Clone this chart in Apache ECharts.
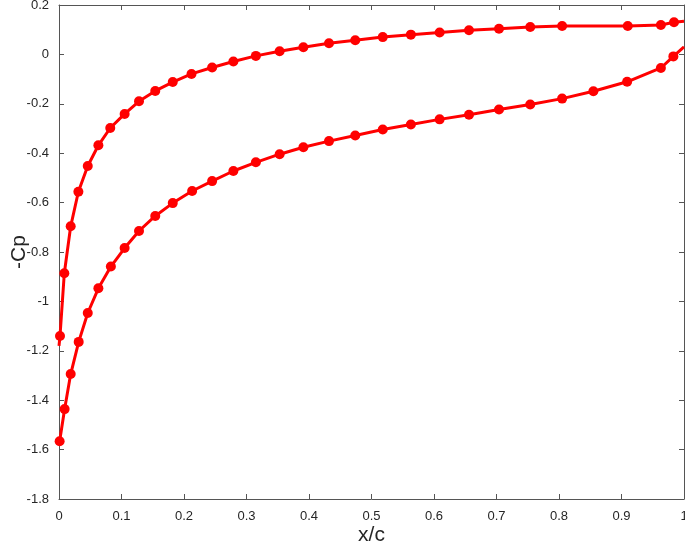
<!DOCTYPE html>
<html>
<head>
<meta charset="utf-8">
<script src="https://cdn.jsdelivr.net/npm/echarts@6/dist/echarts.min.js"></script>
<style>
  html, body { margin: 0; padding: 0; background: #fff; }
  #cp { width: 685px; height: 547px; }
</style>
</head>
<body>
<div id="cp"></div>
<script>
// upper curve (x/c, -Cp)
const xUpper = [0, 0.0016, 0.0085, 0.0187, 0.031, 0.046, 0.063, 0.082, 0.105, 0.128, 0.154, 0.182, 0.212,
  0.245, 0.279, 0.315, 0.353, 0.391, 0.432, 0.474, 0.518, 0.563, 0.609, 0.656, 0.704, 0.754, 0.805,
  0.910, 0.963, 0.984, 1.0]
const cpUpper = [-1.18, -1.14, -0.886, -0.696, -0.556, -0.452, -0.368, -0.298, -0.241, -0.190, -0.148, -0.112, -0.079,
  -0.053, -0.029, -0.006, 0.013, 0.029, 0.045, 0.057, 0.070, 0.080, 0.089, 0.098, 0.104, 0.111, 0.115,
  0.115, 0.119, 0.130, 0.134]
// lower curve
const xLower = [0.001, 0.009, 0.0187, 0.0315, 0.046, 0.063, 0.083, 0.105, 0.128, 0.154, 0.182, 0.213,
  0.245, 0.279, 0.315, 0.353, 0.391, 0.432, 0.474, 0.518, 0.563, 0.609, 0.656, 0.704, 0.754, 0.805,
  0.855, 0.909, 0.963, 0.983, 1.0]
const cpLower = [-1.566, -1.436, -1.294, -1.164, -1.047, -0.947, -0.859, -0.784, -0.715, -0.654, -0.602, -0.553,
  -0.513, -0.472, -0.437, -0.404, -0.376, -0.351, -0.328, -0.304, -0.284, -0.263, -0.244, -0.223, -0.203, -0.179,
  -0.149, -0.111, -0.055, -0.008, 0.030]
// axis ticks
const xTicks = [0, 1, 0.1]
const yTicks = [-1.8, 0.2, 0.2]

// end points sit on the axes without a marker
function pairs (xs, ys) {
  return xs.map((x, i) => {
    let item = { value: [x, ys[i]] }
    if (x === 0 || x === 1) item.symbol = 'none'
    return item
  })
}

const axisCol = '#262626'
const tickFont = { color: axisCol, fontSize: 13, fontFamily: 'Liberation Sans, Arial, sans-serif' }

function xAx (pos, show) {
  return {
    type: 'value', position: pos, min: xTicks[0], max: xTicks[1], interval: xTicks[2],
    name: show ? 'x/c' : '', nameLocation: 'middle', nameGap: 26, nameMoveOverlap: false,
    nameTextStyle: { color: axisCol, fontSize: 21, fontFamily: 'Liberation Sans, Arial, sans-serif' },
    axisLine: { show: true, onZero: false, lineStyle: { color: '#555', width: 1 } },
    axisTick: { show: true, inside: true, length: 5, lineStyle: { color: '#555' } },
    axisLabel: Object.assign({ show: show, margin: 11 }, tickFont),
    splitLine: { show: false }
  }
}
function yAx (pos, show) {
  return {
    type: 'value', position: pos, min: yTicks[0], max: yTicks[1], interval: yTicks[2],
    name: show ? '-Cp' : '', nameLocation: 'middle', nameGap: 29, nameMoveOverlap: false,
    nameTextStyle: { color: axisCol, fontSize: 21, fontFamily: 'Liberation Sans, Arial, sans-serif' },
    axisLine: { show: true, onZero: false, lineStyle: { color: '#555', width: 1 } },
    axisTick: { show: true, inside: true, length: 5, lineStyle: { color: '#555' } },
    axisLabel: Object.assign({ show: show, margin: 10 }, tickFont),
    splitLine: { show: false }
  }
}

const lineStyle = { color: '#ff0000', width: 3 }
const option = {
  animation: false,
  grid: { left: 59, top: 5, width: 625, height: 494, containLabel: false, outerBoundsMode: 'none' },
  xAxis: [xAx('bottom', true), xAx('top', false)],
  yAxis: [yAx('left', true), yAx('right', false)],
  series: [
    {
      type: 'line', data: pairs(xUpper, cpUpper), symbol: 'circle', symbolSize: 10,
      itemStyle: { color: '#ff0000' }, lineStyle: lineStyle, clip: true
    },
    {
      type: 'line', data: pairs(xLower, cpLower), symbol: 'circle', symbolSize: 10,
      itemStyle: { color: '#ff0000' }, lineStyle: lineStyle, clip: true
    }
  ]
}

let myChart = echarts.init(document.getElementById('cp'))
window.onresize = myChart.resize
myChart.setOption(option)
</script>
</body>
</html>
